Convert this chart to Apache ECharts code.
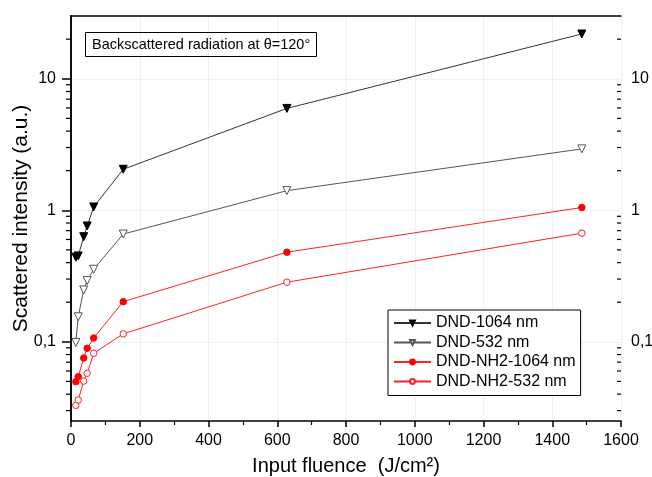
<!DOCTYPE html>
<html>
<head>
<meta charset="utf-8">
<script src="https://cdn.jsdelivr.net/npm/echarts@6/dist/echarts.min.js"></script>
<style>
  html, body { margin: 0; padding: 0; background: #fff; }
  #chart { width: 652px; height: 477px; }
</style>
</head>
<body>
<div id="chart"></div>
<script>
// input fluence (J/cm2), shared by all series
const fluence = [14, 21, 37, 47, 66, 152, 628, 1486];
// scattered intensity (a.u.)
const dnd1064 = [0.44, 0.45, 0.63, 0.76, 1.06, 2.05, 5.95, 21.9];
const dnd532 = [0.099, 0.155, 0.248, 0.292, 0.356, 0.66, 1.41, 2.93];
const nh2_1064 = [0.0497, 0.0543, 0.0753, 0.0893, 0.107, 0.202, 0.48, 1.05];
const nh2_532 = [0.0329, 0.0361, 0.0503, 0.0576, 0.0818, 0.115, 0.284, 0.67];
const seriesNames = ['DND-1064 nm', 'DND-532 nm', 'DND-NH2-1064 nm', 'DND-NH2-532 nm'];
// log axis ticks
const majorTicks = [0.1, 1, 10];
const minorTicks = [0.03, 0.04, 0.05, 0.06, 0.07, 0.08, 0.09,
  0.2, 0.3, 0.4, 0.5, 0.6, 0.7, 0.8, 0.9,
  2, 3, 4, 5, 6, 7, 8, 9, 20];

const FONT = '"Liberation Sans", Arial, sans-serif';
const pairs = ys => fluence.map((x, i) => [x, ys[i]]);
const logLabel = v => String(v).replace('.', ',');

const chart = echarts.init(document.getElementById('chart'));

function lineSeries(name, ys, lineColor, symbol, size, fill, stroke, rotate) {
  return {
    name: name,
    type: 'line',
    data: pairs(ys),
    symbol: symbol,
    symbolSize: size,
    symbolRotate: rotate || 0,
    showAllSymbol: true,
    lineStyle: { color: lineColor, width: 1 },
    itemStyle: { color: fill, borderColor: stroke, borderWidth: 1 },
    emphasis: { disabled: true },
    z: 3
  };
}

chart.setOption({
  animation: false,
  textStyle: { fontFamily: FONT },
  title: {
    text: 'Backscattered radiation at θ=120°',
    left: 85, top: 32,
    padding: [5, 7, 5, 7],
    borderColor: '#000', borderWidth: 1,
    textStyle: { fontSize: 14.5, fontWeight: 'normal', color: '#000', fontFamily: FONT }
  },
  legend: {
    data: seriesNames,
    orient: 'vertical',
    left: 388, top: 310,
    padding: [5, 5, 6, 5],
    borderColor: '#000', borderWidth: 1,
    itemWidth: 37, itemHeight: 6, itemGap: 3.5,
    textStyle: { fontSize: 16, color: '#000', fontFamily: FONT, lineHeight: 16 },
    backgroundColor: '#fff'
  },
  grid: { left: 71, right: 31, top: 16, bottom: 56, containLabel: false, outerBoundsMode: 'none' },
  xAxis: [{
    type: 'value', min: 0, max: 1600, interval: 200,
    name: 'Input fluence  (J/cm²)', nameLocation: 'middle', nameGap: 35,
    nameTextStyle: { fontSize: 20, color: '#000', fontFamily: FONT },
    axisLine: { lineStyle: { color: '#000', width: 1.5 } },
    axisTick: { length: 6, lineStyle: { color: '#000', width: 1.5 } },
    minorTick: { show: true, splitNumber: 2, length: 4, lineStyle: { color: '#000', width: 1.2 } },
    axisLabel: { fontSize: 16, color: '#000', margin: 12, fontFamily: FONT, formatter: v => String(v) },
    splitLine: { show: true, lineStyle: { color: '#f0f0f0', width: 1 } }
  }, {
    type: 'value', position: 'top', min: 0, max: 1600,
    axisLine: { show: true, onZero: false, lineStyle: { color: '#000', width: 1.5 } },
    axisTick: { show: false }, axisLabel: { show: false }, splitLine: { show: false }
  }],
  yAxis: [{
    type: 'log', logBase: 10, min: 0.025, max: 30,
    name: 'Scattered intensity (a.u.)', nameLocation: 'middle', nameGap: 39, nameMoveOverlap: false,
    nameTextStyle: { fontSize: 21, color: '#000', fontFamily: FONT },
    axisLine: { show: true, lineStyle: { color: '#000', width: 1.5 } },
    axisTick: { customValues: majorTicks, length: 9, lineStyle: { color: '#000', width: 1.5 } },
    axisLabel: { customValues: majorTicks, formatter: logLabel, fontSize: 16, color: '#000', margin: 15, fontFamily: FONT },
    splitLine: { show: true, lineStyle: { color: '#f0f0f0', width: 1 } }
  }, {
    type: 'log', logBase: 10, min: 0.025, max: 30, position: 'right',
    axisLine: { show: true, lineStyle: { color: '#000', width: 1.5 } },
    axisTick: { customValues: majorTicks, inside: true, length: 7, lineStyle: { color: '#000', width: 1.5 } },
    axisLabel: { customValues: majorTicks, formatter: logLabel, fontSize: 16, color: '#000', margin: 10, fontFamily: FONT },
    splitLine: { show: false }
  }],
  series: [
    lineSeries(seriesNames[0], dnd1064, '#333', 'triangle', 8, '#000', '#000', 180),
    lineSeries(seriesNames[1], dnd532, '#555', 'triangle', 8, '#fff', '#555', 180),
    lineSeries(seriesNames[2], nh2_1064, '#ff2020', 'circle', 6.5, '#ff0000', '#ff0000'),
    lineSeries(seriesNames[3], nh2_532, '#ff2020', 'circle', 6.5, '#fff', '#ff2020'),
    {
      // minor log ticks on the left (outward) and right (inward) axes
      type: 'custom',
      silent: true,
      clip: false,
      data: minorTicks.map(v => [0, v]),
      encode: { x: 0, y: 1 },
      renderItem: function (params, api) {
        const v = api.value(1);
        const p = api.coord([0, v]);
        const q = api.coord([1600, v]);
        const st = { stroke: '#000', lineWidth: 1.2 };
        return {
          type: 'group',
          children: [
            { type: 'line', shape: { x1: p[0] - 5, y1: p[1], x2: p[0], y2: p[1] }, style: st },
            { type: 'line', shape: { x1: q[0] - 4, y1: q[1], x2: q[0], y2: q[1] }, style: st }
          ]
        };
      }
    }
  ]
});
</script>
</body>
</html>
